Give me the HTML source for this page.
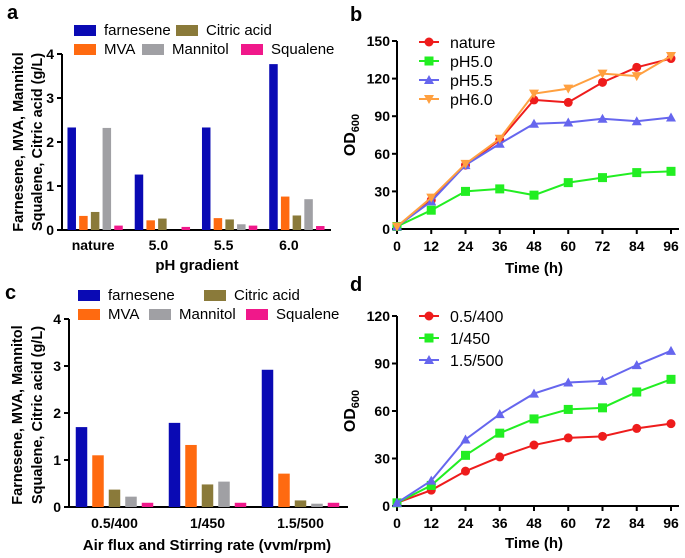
<!DOCTYPE html>
<html><head><meta charset="utf-8"><style>
body{margin:0;background:#fff}
svg{display:block;font-family:"Liberation Sans",Arial,sans-serif}
</style></head><body>
<svg id="s" width="685" height="558" viewBox="0 0 685 558"></svg>
<script>
const seriesNames=["farnesene","MVA","Citric acid","Mannitol","Squalene"];
const barColors=["#0a0ab4","#ff6a10","#8a7a3a","#a0a0a4","#f0188a"];
const catsA=["nature","5.0","5.5","6.0"];
const valsA=[[2.33,0.32,0.41,2.32,0.10],[1.26,0.22,0.26,0,0.07],[2.33,0.27,0.24,0.13,0.10],[3.77,0.76,0.33,0.70,0.09]];
const catsC=["0.5/400","1/450","1.5/500"];
const valsC=[[1.70,1.10,0.37,0.22,0.09],[1.79,1.32,0.48,0.54,0.09],[2.92,0.71,0.14,0.07,0.09]];
const barTicks=[0,1,2,3,4];
const timeTicks=[0,12,24,36,48,60,72,84,96];
const bNames=["nature","pH5.0","pH5.5","pH6.0"];
const bNature=[2,23,51,71,103,101,117,129,136];
const bPH50=[2,15,30,32,27,37,41,45,46];
const bPH55=[2,22,51,68,84,85,88,86,89];
const bPH60=[2,25,52,72,108,112,124,122,138];
const bTicks=[0,30,60,90,120,150];
const dNames=["0.5/400","1/450","1.5/500"];
const d1=[2,10,22,31,38.5,43,44,49,52];
const d2=[2,13,32,46,55,61,62,72,80];
const d3=[2,16,42,58,71,78,79,89,98];
const dTicks=[0,30,60,90,120];

const S=document.getElementById('s');const NS="http://www.w3.org/2000/svg";
function el(t,a,txt){const e=document.createElementNS(NS,t);for(const k in a)e.setAttribute(k,a[k]);if(txt!==undefined)e.textContent=txt;S.appendChild(e);return e;}
function line(x1,y1,x2,y2,c,w){return el('line',{x1,y1,x2,y2,stroke:c||'#000','stroke-width':w||2});}
function text(x,y,t,o){o=o||{};return el('text',Object.assign({x,y,'font-size':o.fs||13,'font-weight':o.fw||'bold','text-anchor':o.a||'middle',fill:'#000'},o.extra||{}),t);}

function letter(x,y,t){const e=text(x,y,t,{fs:20,a:'start'});}
letter(7,19,'a');letter(350,21,'b');letter(5,299,'c');letter(350,291,'d');

function barPanel(id,cats,vals,ax,legend,ytitle,xtitle){
  const y=v=>ax.y0-(v/4)*(ax.y0-ax.y4);
  line(ax.x0,ax.y0,ax.x1,ax.y0);
  line(ax.x0,ax.y4,ax.x0,ax.y0+1);
  barTicks.forEach(t=>{line(ax.x0-5,y(t),ax.x0,y(t));const e=text(ax.x0-8,y(t)+5,String(t),{fs:14,a:'end'});});
  const gw=(ax.x1-ax.x0)/cats.length;
  cats.forEach((c,i)=>{
    const cx=ax.x0+gw*(i+0.5)+ax.shift;
    const lab=text(cx+ax.labShift*(i+1),ax.y0+ax.labDy,c,{fs:14});
    
    vals[i].forEach((v,j)=>{
      const bx=cx+(j-2)*ax.step-ax.bw/2;
      const r=el('rect',{x:bx,y:y(v),width:ax.bw,height:Math.max(0,ax.y0-y(v)),fill:barColors[j]});
      
      
    });
  });
  legend.forEach(L=>{
    const r=el('rect',{x:L.x,y:L.y-5,width:22,height:11,fill:barColors[L.i]});
    
    const t=text(L.x+30,L.y+5,seriesNames[L.i],{fs:15,fw:'normal',a:'start'});
    
  });
  ytitle.forEach((tt,k)=>{const t=text(tt.x,tt.y,tt.t,{fs:14.5,extra:{transform:`rotate(-90 ${tt.x} ${tt.y})`}});});
  const xt=text(xtitle.x,xtitle.y,xtitle.t,{fs:15});
}
barPanel('a',catsA,valsA,{x0:62,x1:331,y0:230,y4:54,bw:8.5,step:11.7,shift:-0.5,labShift:-2,labDy:20},
 [{i:0,x:74,y:30},{i:2,x:176,y:30},{i:1,x:74,y:49},{i:3,x:142,y:49},{i:4,x:241,y:49}],
 [{x:23,y:142,t:'Farnesene, MVA, Mannitol'},{x:42,y:142,t:'Squalene, Citric acid (g/L)'}],{x:197,y:270,t:'pH gradient'});
barPanel('c',catsC,valsC,{x0:69,x1:348,y0:507,y4:319,bw:11.5,step:16.5,shift:-1,labShift:0,labDy:21},
 [{i:0,x:78,y:295},{i:2,x:204,y:295},{i:1,x:78,y:314},{i:3,x:149,y:314},{i:4,x:246,y:314}],
 [{x:22,y:415,t:'Farnesene, MVA, Mannitol'},{x:42,y:415,t:'Squalene, Citric acid (g/L)'}],{x:207,y:550,t:'Air flux and Stirring rate (vvm/rpm)'});

function marker(type,x,y,c){
  let e;
  if(type==='circle')e=el('circle',{cx:x,cy:y,r:4.5,fill:c});
  else if(type==='square')e=el('rect',{x:x-4.5,y:y-4.5,width:9,height:9,fill:c});
  else if(type==='up')e=el('polygon',{points:`${x},${y-5} ${x+5},${y+4} ${x-5},${y+4}`,fill:c});
  else e=el('polygon',{points:`${x},${y+5} ${x+5},${y-4} ${x-5},${y-4}`,fill:c});
  return e;
}
function linePanel(id,series,names,colors,types,ticks,ax,legY,xtY){
  const ymax=ticks[ticks.length-1];
  const X=t=>ax.x0+(t/96)*(ax.x1-ax.x0);
  const Y=v=>ax.y0-(v/ymax)*(ax.y0-ax.yt);
  line(ax.x0-1,ax.y0,ax.x1+8,ax.y0);
  line(ax.x0,ax.yt,ax.x0,ax.y0);
  ticks.forEach(t=>{line(ax.x0-5,Y(t),ax.x0,Y(t));const e=text(ax.x0-7,Y(t)+5,String(t),{fs:14,a:'end'});});
  timeTicks.forEach(t=>{line(X(t),ax.y0,X(t),ax.y0+5);const e=text(X(t),ax.y0+22,String(t),{fs:14});});
  series.forEach((s,i)=>{
    const p=el('polyline',{points:s.map((v,k)=>X(timeTicks[k])+','+Y(v)).join(' '),fill:'none',stroke:colors[i],'stroke-width':2});
    
    s.forEach((v,k)=>{const m=marker(types[i],X(timeTicks[k]),Y(v),colors[i]);});
    const ly=legY[i];
    line(419,ly,439,ly,colors[i],2);marker(types[i],429,ly,colors[i]);
    const t=text(450,ly+6,names[i],{fs:16,fw:'normal',a:'start'});
  });
  const yt=el('text',{x:0,y:0,'font-size':16,'font-weight':'bold','text-anchor':'middle',transform:`translate(${ax.x0-42},${(ax.y0+ax.yt)/2}) rotate(-90)`});
  yt.innerHTML='OD<tspan font-size="11" dy="4">600</tspan>';
  
  const xt=text((ax.x0+ax.x1)/2,xtY,'Time (h)',{fs:15});
}
linePanel('b',[bNature,bPH50,bPH55,bPH60],bNames,["#ee1c1c","#22ee22","#6666ee","#ffa040"],['circle','square','up','down'],bTicks,{x0:397,x1:671,y0:229,yt:41},[42,61,80,99],273);
linePanel('d',[d1,d2,d3],dNames,["#ee1c1c","#22ee22","#6666ee"],['circle','square','up'],dTicks,{x0:397,x1:671,y0:506,yt:316},[316,338,360],548);
</script>
</body></html>
